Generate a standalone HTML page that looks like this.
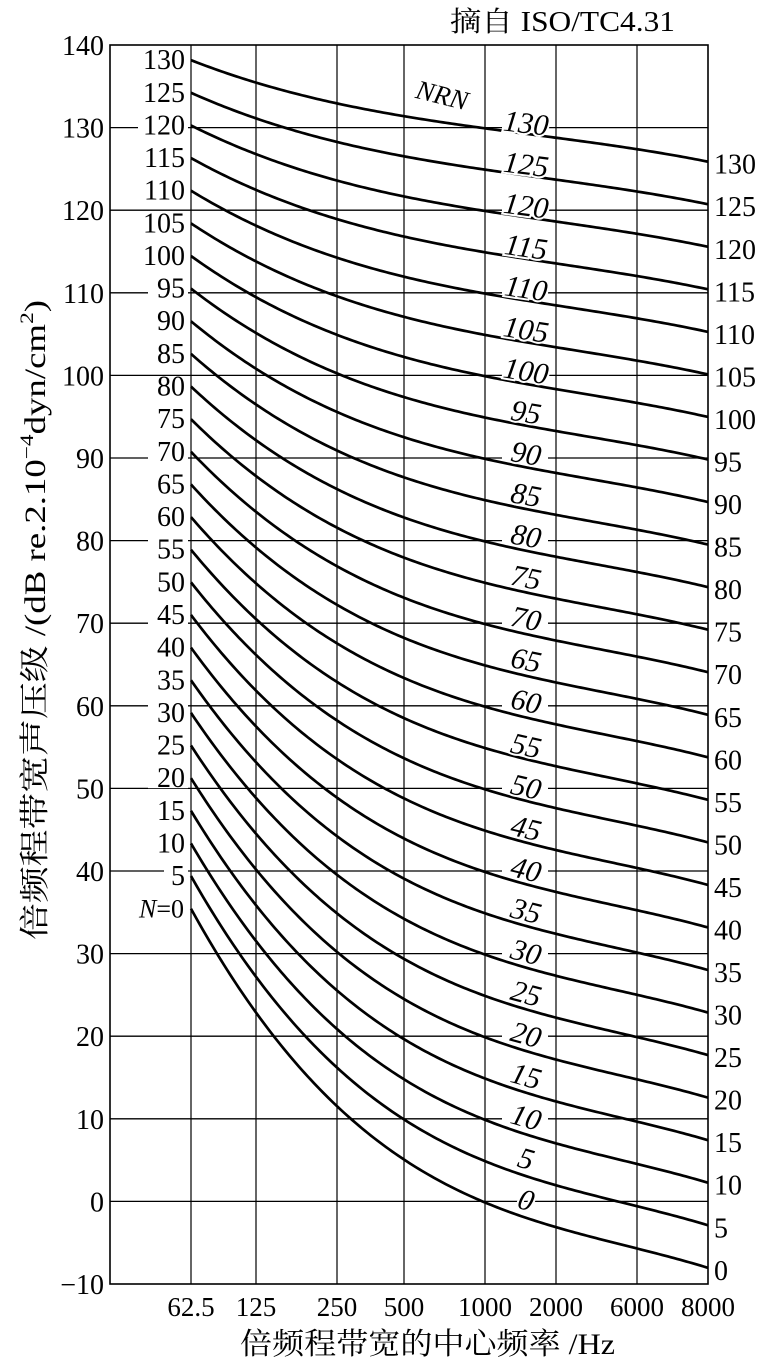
<!DOCTYPE html>
<html><head><meta charset="utf-8">
<style>
html,body{margin:0;padding:0;background:#fff;}
svg{display:block;}
text{font-family:"Liberation Serif","Noto Serif CJK SC",serif;fill:#000;}
.cj{font-family:"Liberation Serif","Noto Serif CJK SC","Noto Sans CJK SC",serif;}
</style></head>
<body>
<svg id="s" width="769" height="1372" viewBox="0 0 769 1372" xmlns="http://www.w3.org/2000/svg">
<text x="450" y="31" font-size="28" textLength="225" lengthAdjust="spacingAndGlyphs" class="cj">摘自 ISO/TC4.31</text>
<text class="cj" font-size="30" x="-940" y="45" transform="rotate(-90)" textLength="640" lengthAdjust="spacingAndGlyphs">倍频程带宽声压级 /(dB re.2.10<tspan dy="-12" font-size="19">−4</tspan><tspan dy="12">dyn/cm</tspan><tspan dy="-12" font-size="19">2</tspan><tspan dy="12">)</tspan></text>
<text class="cj" x="240" y="1354" font-size="30" textLength="375" lengthAdjust="spacingAndGlyphs">倍频程带宽的中心频率 /Hz</text>
<g id="g"></g>
</svg>
<script>
var NS="http://www.w3.org/2000/svg",g=document.getElementById('g');
function el(n,a,t){var e=document.createElementNS(NS,n);for(var k in a)e.setAttribute(k,a[k]);if(t!==undefined)e.textContent=t;g.appendChild(e);return e;}
var X=[191,256,337,404,485,556,637,708];
var A=[35.5,22,12,4.8,0,-3.5,-6.1,-8],B=[0.79,0.87,0.93,0.974,1,1.015,1.025,1.03];
function Y(v){return 45+(140-v)*8.26;}
el('rect',{x:110,y:45,width:598,height:1239,fill:'none',stroke:'#000','stroke-width':1.6});
X.slice(0,7).forEach(function(x){el('line',{x1:x,y1:45,x2:x,y2:1284,stroke:'#000','stroke-width':1.2});});
for(var v=-10;v<=140;v+=10){
  var y=Y(v);
  if(v>-10&&v<140) el('line',{x1:110,y1:y,x2:708,y2:y,stroke:'#000','stroke-width':1.3});
  el('text',{x:104,y:y+10,'font-size':28,'text-anchor':'end'},(v<0?'\u2212':'')+Math.abs(v));
}
var xl=['62.5','125','250','500','1000','2000','6000','8000'];
xl.forEach(function(t,i){el('text',{x:X[i],y:1316,'font-size':27,'text-anchor':'middle'},t);});
function fit(N){
  var n=4,M=[],r=[];for(var i=0;i<n;i++){M.push([0,0,0,0]);r.push(0);}
  for(var k=0;k<8;k++){var t=(X[k]-191)/517,yv=Y(A[k]+B[k]*N),w=(k==0||k==7||k==4)?6:1;
    var p=[1,t,t*t,t*t*t];for(var i=0;i<n;i++){r[i]+=w*p[i]*yv;for(var j=0;j<n;j++)M[i][j]+=w*p[i]*p[j];}}
  for(var i=0;i<n;i++){for(var j=i+1;j<n;j++){var f=M[j][i]/M[i][i];for(var c=i;c<n;c++)M[j][c]-=f*M[i][c];r[j]-=f*r[i];}}
  var c=[0,0,0,0];for(var i=n-1;i>=0;i--){var s=r[i];for(var j=i+1;j<n;j++)s-=M[i][j]*c[j];c[i]=s/M[i][i];}
  return function(x){var t=(x-191)/517;return c[0]+c[1]*t+c[2]*t*t+c[3]*t*t*t;};
}
for(var N=10;N<=130;N+=10){el('rect',{x:502,y:Y(N)-3,width:46,height:6,fill:'#fff'});}
for(var N=0;N<=130;N+=5){
  var f=fit(N),y0=f(191);
  var w=(N==0)?54:(N<10?24:(N<100?40:50));
  el('rect',{x:188-w,y:y0-10,width:w,height:20,fill:'#fff'});
}
for(var N=0;N<=130;N+=5){
  var f=fit(N),d='';
  for(var x=191;x<=708;x+=3){d+=(x==191?'M':'L')+x+','+f(x).toFixed(2);}
  d+='L708,'+f(708).toFixed(2);
  el('path',{d:d,fill:'none',stroke:'#000','stroke-width':2.7});
  var y0=f(191),y7=f(708);
  if(N==0){var t=el('text',{x:184,y:y0+9,'font-size':26,'text-anchor':'end'});
    var a=document.createElementNS(NS,'tspan');a.setAttribute('font-style','italic');a.textContent='N';t.appendChild(a);t.appendChild(document.createTextNode('=0'));}
  else el('text',{x:185,y:y0+9,'font-size':28,'text-anchor':'end'},String(N));
  el('text',{x:714,y:y7+12,'font-size':28},String(N));
  var ang=Math.atan2(f(545)-f(505),40)*180/Math.PI*0.9,ym=Y(N)-4+(N<60?3:0);
  el('text',{x:526,y:ym,'font-size':30,'font-style':'italic','text-anchor':'middle','dominant-baseline':'central',transform:'rotate('+ang.toFixed(1)+' 526 '+ym+')',stroke:'#fff','stroke-width':4,'paint-order':'stroke'},String(N));
}
el('text',{x:440,y:104,'font-size':27,'font-style':'italic','text-anchor':'middle',transform:'rotate(14 440 104)'},'NRN');
</script>
</body></html>
